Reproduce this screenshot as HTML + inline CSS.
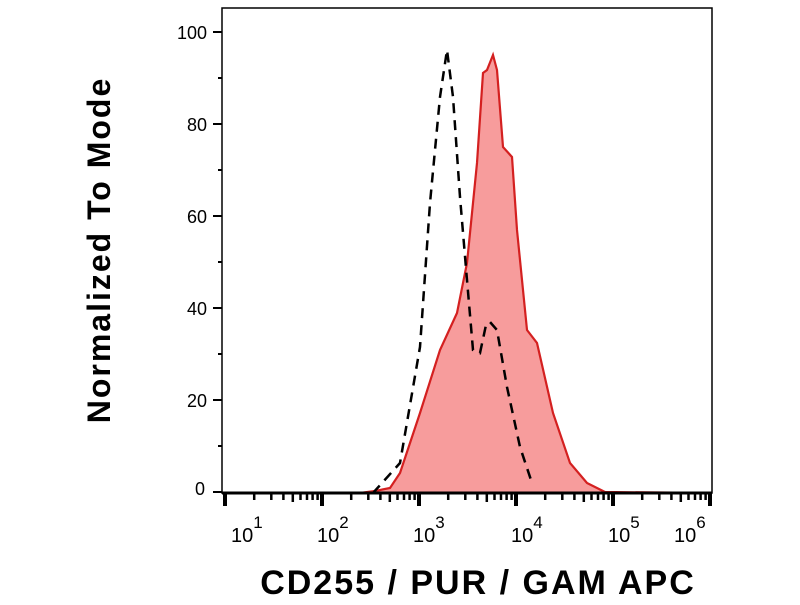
<!DOCTYPE html>
<html><head><meta charset="utf-8"><style>body{margin:0;background:#fff}</style></head><body>
<svg width="800" height="600" xmlns="http://www.w3.org/2000/svg" font-family="Liberation Sans, sans-serif">
<defs>
<g id="dec" stroke="#000">
<line x1="0" y1="493" x2="0" y2="506" stroke-width="4"/>
<line x1="29.2" y1="493" x2="29.2" y2="500" stroke-width="2.5"/>
<line x1="46.3" y1="493" x2="46.3" y2="500" stroke-width="2.5"/>
<line x1="58.4" y1="493" x2="58.4" y2="500" stroke-width="2.5"/>
<line x1="67.8" y1="493" x2="67.8" y2="502" stroke-width="2.5"/>
<line x1="75.5" y1="493" x2="75.5" y2="500" stroke-width="2.5"/>
<line x1="82" y1="493" x2="82" y2="500" stroke-width="2.5"/>
<line x1="87.6" y1="493" x2="87.6" y2="500" stroke-width="2.5"/>
<line x1="92.6" y1="493" x2="92.6" y2="500" stroke-width="2.5"/>
</g>
</defs>
<rect x="222" y="8" width="490" height="485" fill="none" stroke="#000" stroke-width="1.5"/>
<path d="M222,493 L360,493 L375,491 L390,488 L400,473 L420,413 L440,350 L457,313 L467,263 L477,163 L483,73 L487,70 L493,55 L497,70 L503,147 L512,157 L517,230 L527,330 L537,343 L553,413 L570,463 L587,483 L605,492 L712,493 Z" fill="#f79c9c" stroke="#d42020" stroke-width="2.2"/>
<path d="M373,493 L400,463 L420,347 L430,203 L440,97 L447,50 L453,97 L460,197 L467,280 L473,350 L480,353 L486,325 L490,322 L497,330 L507,387 L520,447 L532,483" fill="none" stroke="#000" stroke-width="2.5" stroke-dasharray="10,7"/>
<line x1="222" y1="493" x2="712" y2="493" stroke="#000" stroke-width="3"/>
<g stroke="#000" stroke-width="2">
<line x1="213" y1="32" x2="222" y2="32"/><line x1="213" y1="124" x2="222" y2="124"/><line x1="213" y1="216" x2="222" y2="216"/><line x1="213" y1="308" x2="222" y2="308"/><line x1="213" y1="400" x2="222" y2="400"/><line x1="213" y1="492" x2="222" y2="492"/>
<line x1="218" y1="78" x2="222" y2="78"/><line x1="218" y1="170" x2="222" y2="170"/><line x1="218" y1="262" x2="222" y2="262"/><line x1="218" y1="354" x2="222" y2="354"/><line x1="218" y1="446" x2="222" y2="446"/>
</g>
<use href="#dec" x="225"/><use href="#dec" x="322"/><use href="#dec" x="419"/><use href="#dec" x="516"/><use href="#dec" x="613"/>
<line x1="710" y1="493" x2="710" y2="506" stroke="#000" stroke-width="4"/>
<g font-size="18" text-anchor="end" fill="#000">
<text x="207" y="39">100</text><text x="207" y="131">80</text><text x="207" y="223">60</text><text x="207" y="315">40</text><text x="207" y="407">20</text><text x="205" y="495">0</text>
</g>
<g font-size="20" fill="#000">
<text x="231" y="542">10<tspan dy="-14" font-size="17">1</tspan></text>
<text x="317" y="542">10<tspan dy="-14" font-size="17">2</tspan></text>
<text x="413" y="542">10<tspan dy="-14" font-size="17">3</tspan></text>
<text x="511" y="542">10<tspan dy="-14" font-size="17">4</tspan></text>
<text x="608" y="542">10<tspan dy="-14" font-size="17">5</tspan></text>
<text x="674" y="542">10<tspan dy="-14" font-size="17">6</tspan></text>
</g>
<text x="478" y="594" font-size="34" font-weight="bold" text-anchor="middle" letter-spacing="2">CD255 / PUR / GAM APC</text>
<text transform="translate(110,250) rotate(-90)" font-size="32" font-weight="bold" text-anchor="middle" letter-spacing="2">Normalized To Mode</text>
</svg>
</body></html>
